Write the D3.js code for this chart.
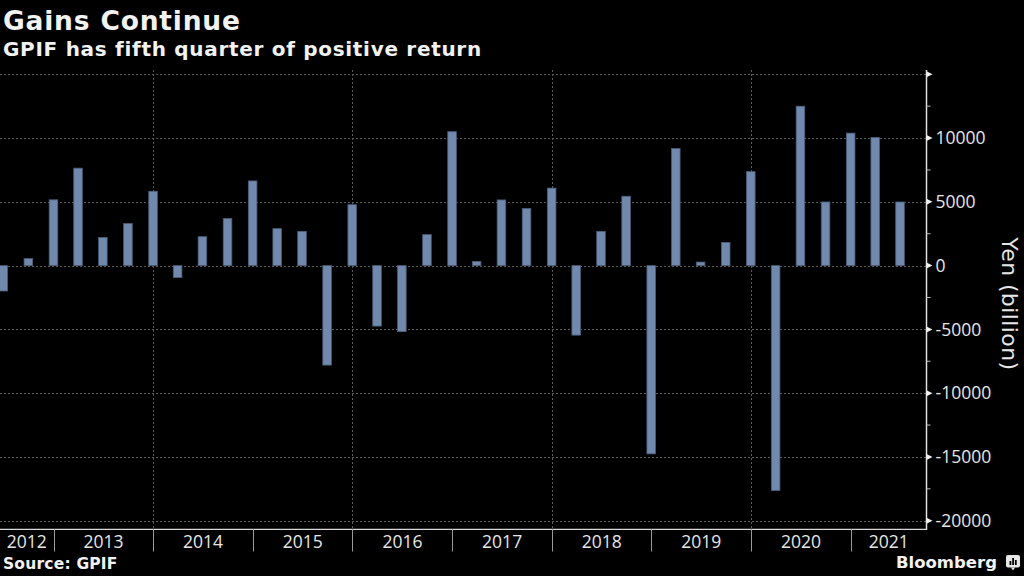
<!DOCTYPE html>
<html>
<head>
<meta charset="utf-8">
<script src="https://cdn.jsdelivr.net/npm/d3@7"></script>
<style>
  html, body { margin: 0; padding: 0; background: #000; }
  svg { display: block; }
</style>
</head>
<body>
<svg id="chart" width="1024" height="576"></svg>
<script>
// ---- data (quarter-end dates, returns in billion yen) ----
const quarters = [
  "2012-06-30","2012-09-30","2012-12-31",
  "2013-03-31","2013-06-30","2013-09-30","2013-12-31",
  "2014-03-31","2014-06-30","2014-09-30","2014-12-31",
  "2015-03-31","2015-06-30","2015-09-30","2015-12-31",
  "2016-03-31","2016-06-30","2016-09-30","2016-12-31",
  "2017-03-31","2017-06-30","2017-09-30","2017-12-31",
  "2018-03-31","2018-06-30","2018-09-30","2018-12-31",
  "2019-03-31","2019-06-30","2019-09-30","2019-12-31",
  "2020-03-31","2020-06-30","2020-09-30","2020-12-31",
  "2021-03-31","2021-06-30"
];
const returns = [
  -1990, 550, 5160,
  7640, 2200, 3300, 5830,
  -940, 2270, 3690, 6640,
  2900, 2690, -7800, 4780,
  -4740, -5180, 2430, 10500,
  330, 5150, 4480, 6080,
  -5450, 2690, 5440, -14760,
  9180, 280, 1820, 7370,
  -17640, 12500, 4990, 10390,
  10050, 4990
];
const yearLabels = ["2012","2013","2014","2015","2016","2017","2018","2019","2020","2021"];
const yTicks = [15000, 10000, 5000, 0, -5000, -10000, -15000, -20000];
const yTickLabels = ["", "10000", "5000", "0", "-5000", "-10000", "-15000", "-20000"];
const gridYears = ["2014","2016","2018","2020"];

const title = "Gains Continue";
const subtitle = "GPIF has fifth quarter of positive return";
const yAxisTitle = "Yen (billion)";
const source = "Source: GPIF";

// ---- layout ----
const svg = d3.select("#chart");
const parse = d3.timeParse("%Y-%m-%d");
const plotLeft = 0, plotRight = 926.5, axisY = 529.3;
const wideFont = "'DejaVu Sans', Verdana, sans-serif";
const tickFont = "'Open Sans', 'DejaVu Sans', sans-serif";

const x = d3.scaleTime()
  .domain([parse("2012-06-18"), parse("2021-10-05")])
  .range([plotLeft, plotRight]);
const y = d3.scaleLinear()
  .domain([-20000, 15000])
  .range([520.7, 74.3]);

const data = quarters.map((q, i) => ({ date: parse(q), value: returns[i] }));

// clip for plot area
svg.append("defs").append("clipPath").attr("id", "plotclip")
  .append("rect").attr("x", plotLeft).attr("y", 60).attr("width", plotRight - plotLeft).attr("height", axisY - 60);

// horizontal grid
svg.append("g").selectAll("line").data(yTicks).join("line")
  .attr("x1", plotLeft).attr("x2", plotRight)
  .attr("y1", d => Math.round(y(d)) + 0.5).attr("y2", d => Math.round(y(d)) + 0.5)
  .attr("stroke", "#5a5a5a").attr("stroke-width", 1).attr("stroke-dasharray", "2,2");

// vertical grid (every other year)
svg.append("g").selectAll("line").data(gridYears).join("line")
  .attr("x1", d => Math.round(x(parse(d + "-01-01"))) + 0.5)
  .attr("x2", d => Math.round(x(parse(d + "-01-01"))) + 0.5)
  .attr("y1", 70).attr("y2", axisY)
  .attr("stroke", "#5a5a5a").attr("stroke-width", 1).attr("stroke-dasharray", "2,2");

// bars
const barW = 8.6;
svg.append("g").attr("clip-path", "url(#plotclip)")
  .selectAll("rect").data(data).join("rect")
  .attr("x", d => x(d.date) - barW / 2)
  .attr("width", barW)
  .attr("y", d => y(Math.max(0, d.value)))
  .attr("height", d => Math.abs(y(d.value) - y(0)))
  .attr("fill", "#7089ad")
  .attr("stroke", "#4a5c78")
  .attr("stroke-width", 0.8);

// x axis line
svg.append("line")
  .attr("x1", plotLeft).attr("x2", plotRight + 0.5)
  .attr("y1", axisY).attr("y2", axisY)
  .attr("stroke", "#d8d8d8").attr("stroke-width", 1.2);

// year separators & labels
const yearStarts = yearLabels.map(yy => parse(yy + "-01-01"));
const seps = yearStarts.slice(1);
svg.append("g").selectAll("line").data(seps).join("line")
  .attr("x1", d => Math.round(x(d)) + 0.5).attr("x2", d => Math.round(x(d)) + 0.5)
  .attr("y1", axisY).attr("y2", 551.5)
  .attr("stroke", "#9a9a9a").attr("stroke-width", 1);

svg.append("g").selectAll("text").data(yearLabels).join("text")
  .attr("x", (d, i) => {
    const a = Math.max(x(yearStarts[i]), plotLeft);
    const nextStart = i + 1 < yearStarts.length ? x(yearStarts[i + 1]) : plotRight;
    const b = Math.min(nextStart, plotRight);
    return (a + b) / 2;
  })
  .attr("y", 548)
  .attr("text-anchor", "middle")
  .attr("fill", "#e6e6e6")
  .style("font-family", tickFont)
  .style("font-size", "17.5px")
  .text(d => d);

// y axis
const axisX = plotRight;
svg.append("line")
  .attr("x1", axisX).attr("x2", axisX)
  .attr("y1", 70).attr("y2", axisY + 0.6)
  .attr("stroke", "#e0e0e0").attr("stroke-width", 1.5);

// minor ticks
const minorTicks = d3.range(-20000, 15001, 2500).filter(v => v % 5000 !== 0);
svg.append("g").selectAll("line").data(minorTicks).join("line")
  .attr("x1", axisX).attr("x2", axisX + 4)
  .attr("y1", d => y(d)).attr("y2", d => y(d))
  .attr("stroke", "#bdbdbd").attr("stroke-width", 1);

// major tick flags
svg.append("g").selectAll("path").data(yTicks).join("path")
  .attr("d", d => {
    const yy = y(d);
    return `M${axisX},${yy - 3} L${axisX + 6},${yy} L${axisX},${yy + 3} Z`;
  })
  .attr("fill", "#f0f0f0");

svg.append("g").selectAll("text").data(yTicks).join("text")
  .attr("x", axisX + 9)
  .attr("y", d => y(d))
  .attr("dy", "0.36em")
  .attr("fill", "#e6e6e6")
  .style("font-family", tickFont)
  .style("font-size", "17.5px")
  .text((d, i) => yTickLabels[i]);

// y axis title
svg.append("text")
  .attr("transform", `translate(1002,${y(-3000)}) rotate(90)`)
  .attr("text-anchor", "middle")
  .attr("fill", "#e6e6e6")
  .style("font-family", wideFont)
  .style("font-size", "22px")
  .style("letter-spacing", "0.4px")
  .text(yAxisTitle);

// titles
svg.append("text").attr("x", 3).attr("y", 30)
  .attr("fill", "#f2f2f2")
  .style("font-family", wideFont).style("font-size", "26.5px").style("font-weight", "bold")
  .style("letter-spacing", "0.8px")
  .text(title);
svg.append("text").attr("x", 3).attr("y", 56)
  .attr("fill", "#f2f2f2")
  .style("font-family", wideFont).style("font-size", "20px").style("font-weight", "bold")
  .style("letter-spacing", "0.7px")
  .text(subtitle);

// source
svg.append("text").attr("x", 3).attr("y", 569)
  .attr("fill", "#f2f2f2")
  .style("font-family", wideFont).style("font-size", "15.5px").style("font-weight", "bold")
  .style("letter-spacing", "0.2px")
  .text(source);

// Bloomberg logo
svg.append("text").attr("x", 997).attr("y", 568)
  .attr("text-anchor", "end")
  .attr("fill", "#f2f2f2")
  .style("font-family", wideFont).style("font-size", "16.5px").style("font-weight", "bold")
  .text("Bloomberg");
const logo = svg.append("g").attr("transform", "translate(1006,555)");
logo.append("rect").attr("width", 14).attr("height", 12.5).attr("rx", 2).attr("fill", "#e8e8e8");
logo.append("path").attr("d", "M5,12.5 L7,15.5 L9,12.5 Z").attr("fill", "#e8e8e8");
[[3.5, 6, 4], [6.2, 3, 7], [8.9, 5, 5]].forEach(([bx, by, bh]) => {
  logo.append("rect").attr("x", bx).attr("y", by).attr("width", 1.8).attr("height", bh).attr("fill", "#000");
});
</script>
</body>
</html>
